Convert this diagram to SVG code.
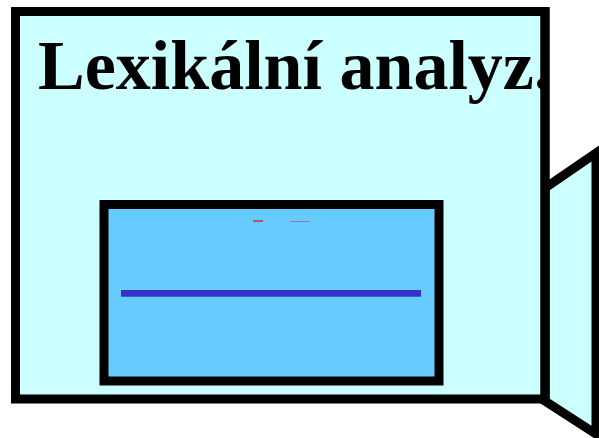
<svg xmlns="http://www.w3.org/2000/svg" width="599" height="438" viewBox="0 0 599 438">
<style>
.box{stroke:#000;stroke-width:9;stroke-linejoin:miter}
.title{font-family:"Liberation Serif","Times New Roman",serif;font-weight:bold;font-size:70px;fill:#000}
</style>
<rect width="599" height="438" fill="#fff"/>
<g id="door">
<polygon class="box" points="545,188 596,153 596,434 545,401" fill="#CCFFFF"/>
</g>
<g id="frame">
<rect class="box" x="15.5" y="11.5" width="529.5" height="387.5" fill="#CCFFFF"/>
<text class="title" x="38" y="89">Lexikální analyz.</text>
<rect x="540.5" y="7" width="9" height="396.5" fill="#000"/>
</g>
<g id="screen">
<rect class="box" x="104" y="204.5" width="335" height="176.5" fill="#66CCFF"/>
<line x1="253" y1="221" x2="263" y2="221" stroke="#CC3333" stroke-width="1.5"/>
<line x1="290" y1="221.5" x2="310" y2="221.5" stroke="#997799" stroke-width="1"/>
<line x1="121" y1="293.3" x2="421" y2="293.3" stroke="#3333CC" stroke-width="6.7"/>
</g>
<g id="connectors"></g>
</svg>
